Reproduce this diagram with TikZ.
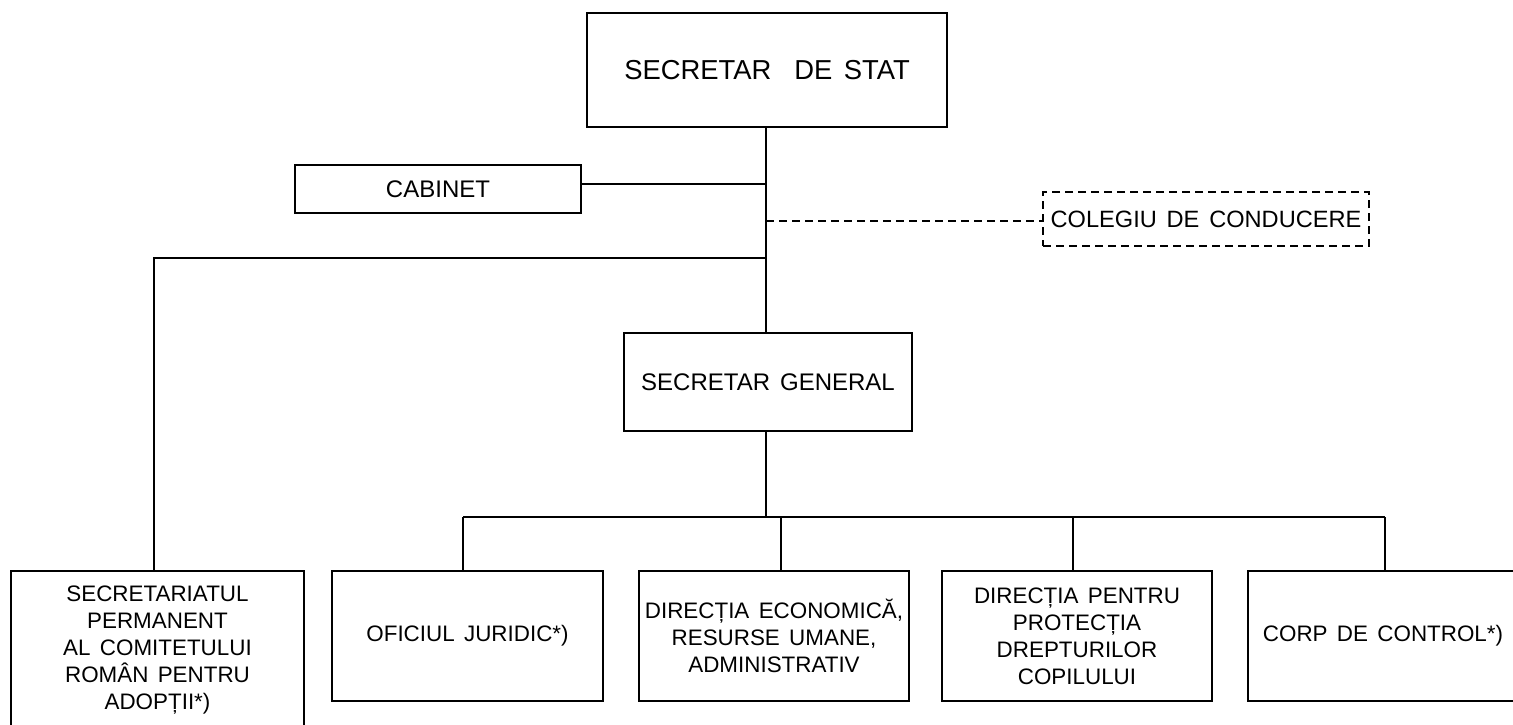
\documentclass[tikz,border=0pt]{standalone}
\usepackage{fontspec}
\setmainfont{Liberation Sans}[WordSpace=1.5]
\usetikzlibrary{positioning}

\tikzset{
  unitbox/.style={draw, rectangle, line width=0.9pt, align=center, inner sep=0pt, outer sep=0pt,
    font=\fontsize{12}{13.5}\selectfont},
  lowbox/.style={unitbox, minimum width=135pt, minimum height=65pt,
    font=\fontsize{11.2}{13.5}\selectfont},
  link/.style={line width=0.9pt},
  dashlink/.style={line width=0.9pt, dash pattern=on 4pt off 2.5pt}
}

\begin{document}
\begin{tikzpicture}[x=0.5pt, y=-0.5pt]
        \useasboundingbox (0,0) rectangle (1513,724);
        \clip (0,0) rectangle (1513,724);
        % conducere
        \node[unitbox, minimum width=180pt, minimum height=57pt, font=\fontsize{13.7}{15}\selectfont] (stat) at (767,70) {SECRETAR\ \ DE STAT};
        \node[unitbox, minimum width=143pt, minimum height=24pt] (cab) at (438,189) {CABINET};
        \node[unitbox, dashlink, minimum width=163pt, minimum height=27pt, font=\fontsize{11.8}{13.5}\selectfont] (coleg) at (1206,219) {COLEGIU DE CONDUCERE};
        \node[unitbox, minimum width=144pt, minimum height=49pt] (gen) at (768,382) {SECRETAR GENERAL};
        % structuri subordonate
        \node[lowbox, anchor=north, minimum width=146.5pt, minimum height=79pt] (sec) at (157.5,571) {SECRETARIATUL\\PERMANENT\\AL COMITETULUI\\ROMÂN PENTRU\\ADOPȚII*)};
        \node[lowbox, minimum width=135.5pt, right=14pt of sec.north east, anchor=north west] (ofic) {OFICIUL JURIDIC*)};
        \node[lowbox, right=18pt of ofic.north east, anchor=north west] (econ) {DIRECȚIA ECONOMICĂ,\\RESURSE UMANE,\\ADMINISTRATIV};
        \node[lowbox, right=16.5pt of econ.north east, anchor=north west] (prot) {DIRECȚIA PENTRU\\PROTECȚIA\\DREPTURILOR\\COPILULUI};
        \node[lowbox, right=18pt of prot.north east, anchor=north west] (corp) {CORP DE CONTROL*)};
        % legaturi
        \coordinate (jcab) at (766,184);
        \coordinate (jcol) at (766,221);
        \coordinate (jsec) at (766,258);
        \coordinate (jsecl) at (154,258);
        \coordinate (busl) at (463,517);
        \coordinate (busr) at (1385,517);
        \draw[link] (jcab |- stat.south) -- (jcab |- gen.north);
        \draw[link] (jcab -| cab.east) -- (jcab);
        \draw[dashlink] (jcol) -- (jcol -| coleg.west);
        \draw[link] (jsec) -- (jsecl) -- (jsecl |- sec.north);
        \draw[link] (jcab |- gen.south) -- (jcab |- busl);
        \draw[link] (busl) -- (busr);
        \foreach \x/\n in {463/ofic, 781/econ, 1073/prot, 1385/corp} {
            \coordinate (stem) at (\x,517);
            \draw[link] (stem) -- (stem |- \n.north);
        }
    \end{tikzpicture}
\end{document}
